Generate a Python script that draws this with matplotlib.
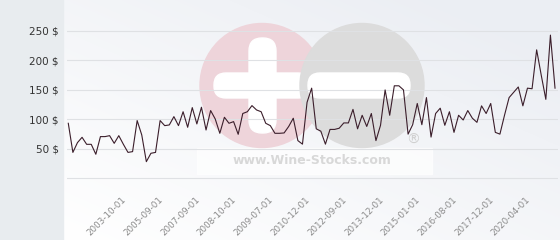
import matplotlib.pyplot as plt
import numpy as np
from matplotlib.patches import Circle, FancyBboxPatch, Rectangle

# prix moyens relevés (un point par vente)
prices = [93.4, 44, 60.6, 69.6, 57.7, 57.7, 40.8, 70.8, 70.8, 72.4,
          59.4, 72.4, 57.7, 44, 45.3, 98, 73.6, 28.3, 42.5, 44,
          98, 89.4, 90.6, 104.7, 89.4, 113, 86.6, 120, 92.3, 120.6,
          82, 115, 100.7, 76.4, 103.6, 93.4, 96.2, 74.7, 110, 113,
          123.4, 116, 113, 93.4, 89.4, 76.4, 76.4, 77, 88, 102,
          64, 58, 129, 153, 84, 80, 58, 83, 83, 85,
          94, 94, 117, 84, 107, 88, 110, 64, 90, 150,
          107, 157, 157, 150, 75, 91, 127, 91, 137, 70,
          110, 119, 90, 113, 78, 107, 99, 115, 102, 95,
          123, 110, 127, 78, 75, 107, 137, 146, 155, 123,
          153, 152, 218, 175, 134, 243, 153]

tick_labels = ['2003-10-01', '2005-09-01', '2007-09-01', '2008-10-01',
               '2009-07-01', '2010-12-01', '2012-09-01', '2013-12-01',
               '2015-01-01', '2016-08-01', '2017-12-01', '2020-04-01']

y_ticks = [0, 50, 100, 150, 200, 250]
y_labels = ['', '50 $', '100 $', '150 $', '200 $', '250 $']

fig = plt.figure(figsize=(5.6, 2.4), dpi=100)

# fond + filigrane, en coordonnées pixels
bg = fig.add_axes([0, 0, 1, 1])
bg.set_xlim(0, 560)
bg.set_ylim(240, 0)
bg.axis('off')
grad = np.linspace(0, 1, 200)
gx, gy = np.meshgrid(grad, grad[::-1])
g = np.clip(0.55 * gx + 0.6 * gy, 0, 1)
c0 = np.array([1.0, 1.0, 1.0])
c1 = np.array([0.925, 0.935, 0.955])
img = c0 + (c1 - c0) * g[..., None]
bg.imshow(img, extent=(63, 560, 240, 0), aspect='auto', zorder=0)
bg.add_patch(Rectangle((0, 0), 63, 240, color='#e8ecef', zorder=1))
bg.add_patch(Rectangle((197, 148), 235, 26, color='white', alpha=0.7, zorder=1))

bg.add_patch(Circle((262, 85.5), 62, color='#eed4da', zorder=2))
bg.add_patch(FancyBboxPatch((214, 73), 96, 25, boxstyle='round,pad=0,rounding_size=12',
                            color='white', zorder=3))
bg.add_patch(FancyBboxPatch((249, 38), 27, 95, boxstyle='round,pad=0,rounding_size=13',
                            color='white', zorder=3))
bg.add_patch(Circle((362, 85.5), 62, color='#dcdcdc', zorder=4))
bg.add_patch(FancyBboxPatch((308, 73), 102, 25, boxstyle='round,pad=0,rounding_size=12',
                            color='white', zorder=5))
bg.text(312, 160.5, 'www.Wine-Stocks.com', fontsize=9, fontweight='bold',
        color='#d8d8d8', ha='center', va='center', zorder=5)
bg.text(413, 140, '\u00ae', fontsize=10, color='#d0d0d0', ha='center', va='center', zorder=5)

# graphique
ax = fig.add_axes([67 / 560, (240 - 180.1) / 240, 491 / 560, (180.1 - 19.2) / 240])
ax.set_facecolor('none')
x = np.arange(len(prices))
ax.plot(x, prices, color='#3b1e2b', linewidth=0.8, zorder=3)
ax.set_xlim(-0.28, 106.65)
ax.set_ylim(-3, 270)

ax.set_yticks(y_ticks)
ax.set_yticklabels(y_labels, fontsize=7.5, color='#333333')
ax.yaxis.grid(True, color='#dfe1e4', linewidth=0.8)
ax.tick_params(axis='y', length=0, pad=6)

tick_pos = list(range(13, len(prices), 8))
ax.set_xticks(tick_pos)
ax.set_xticklabels(tick_labels, fontsize=6.3, color='#8a8a8a', rotation=45, ha='right')
ax.tick_params(axis='x', length=0, pad=11)

for s in ax.spines.values():
    s.set_visible(False)

fig.savefig('out.png', dpi=100)
